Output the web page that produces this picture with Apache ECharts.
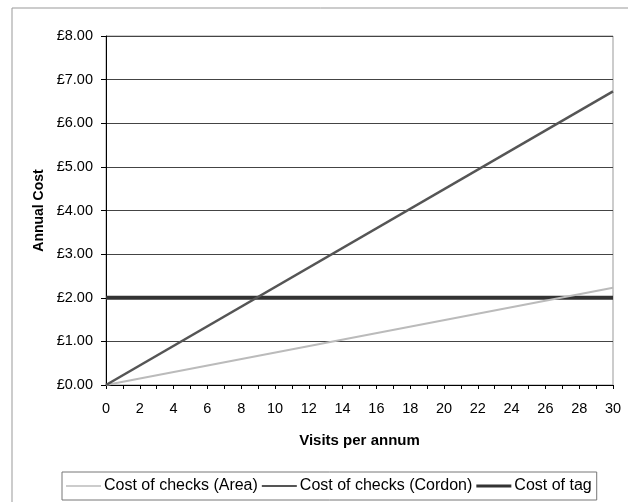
<!DOCTYPE html>
<html>
<head>
<meta charset="utf-8">
<script src="https://cdn.jsdelivr.net/npm/echarts@6/dist/echarts.min.js"></script>
<style>html,body{margin:0;padding:0;background:#fff}#c{width:628px;height:502px}</style>
</head>
<body>
<div id="c"></div>
<script>
var visits = [0, 30];
var areaCost = [0, 2.23];
var cordonCost = [0, 6.73];
var tagCost = [2.0, 2.0];
var seriesNames = ['Cost of checks (Area)', 'Cost of checks (Cordon)', 'Cost of tag'];

function pts(vals){ return visits.map(function(v,i){ return [v, vals[i]]; }); }

var chart = echarts.init(document.getElementById('c'), null, {renderer:'canvas'});
var font = 'Liberation Sans, Arial, sans-serif';
chart.setOption({
  animation: false,
  backgroundColor: '#fff',
  graphic: [{
    type: 'rect', shape: {x: 12, y: 8, width: 640, height: 520},
    style: {fill: 'none', stroke: '#999', lineWidth: 1}, silent: true, z: -1
  }],
  grid: {left: 106, top: 36, width: 507, height: 349, show: true, borderColor: '#999', borderWidth: 1, backgroundColor: 'transparent'},
  xAxis: {
    type: 'value', min: 0, max: 30, interval: 1,
    name: 'Visits per annum', nameLocation: 'middle', nameGap: 48,
    nameTextStyle: {fontFamily: font, fontSize: 15, fontWeight: 'bold', color: '#000'},
    axisLine: {show: true, lineStyle: {color: '#000', width: 1}},
    axisTick: {show: true, length: 4, lineStyle: {color: '#000'}},
    axisLabel: {fontFamily: font, fontSize: 14.5, color: '#000', margin: 16,
      formatter: function(v){ return v % 2 === 0 ? String(v) : ''; }},
    splitLine: {show: false}
  },
  yAxis: {
    type: 'value', min: 0, max: 8, interval: 1,
    name: 'Annual Cost', nameLocation: 'middle', nameGap: 60,
    nameTextStyle: {fontFamily: font, fontSize: 14, fontWeight: 'bold', color: '#000'},
    axisLine: {show: true, lineStyle: {color: '#000', width: 1}},
    axisTick: {show: true, length: 5, lineStyle: {color: '#000'}},
    axisLabel: {fontFamily: font, fontSize: 14.5, color: '#000', margin: 13,
      formatter: function(v){ return '£' + v.toFixed(2); }},
    splitLine: {show: true, lineStyle: {color: '#444', width: 1}}
  },
  legend: {
    left: 62, top: 472, orient: 'horizontal',
    itemWidth: 35, itemHeight: 16, itemGap: 4, padding: [6, 5, 6, 4],
    borderColor: '#777', borderWidth: 1,
    textStyle: {fontFamily: font, fontSize: 16, color: '#000', padding: [0, 0, 0, -2]},
    data: [
      {name: seriesNames[0], icon: 'path://M0,0H100V4.5H0Z'},
      {name: seriesNames[1], icon: 'path://M0,0H100V6H0Z'},
      {name: seriesNames[2], icon: 'path://M0,0H100V9H0Z'}
    ]
  },
  series: [
    {name: seriesNames[0], type: 'line', data: pts(areaCost), symbol: 'none',
      lineStyle: {color: '#bbbbbb', width: 2}, itemStyle: {color: '#bbbbbb'}, z: 3},
    {name: seriesNames[1], type: 'line', data: pts(cordonCost), symbol: 'none',
      lineStyle: {color: '#555', width: 2.5}, itemStyle: {color: '#555'}, z: 4},
    {name: seriesNames[2], type: 'line', data: pts(tagCost), symbol: 'none',
      lineStyle: {color: '#333', width: 4}, itemStyle: {color: '#333'}, z: 2}
  ]
});
</script>
</body>
</html>
